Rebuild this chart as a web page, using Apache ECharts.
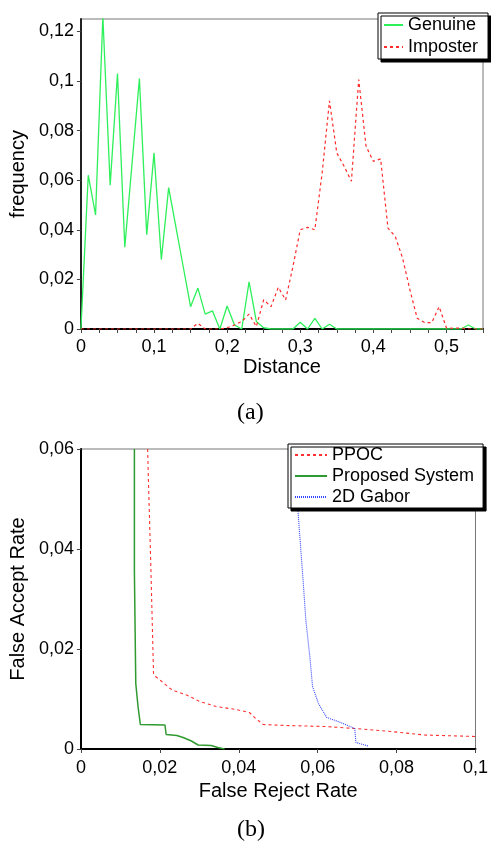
<!DOCTYPE html>
<html>
<head>
<meta charset="utf-8">
<script src="https://cdn.jsdelivr.net/npm/echarts@6/dist/echarts.min.js"></script>
<style>
html,body{margin:0;padding:0;background:#fff;}
#chart{width:491px;height:842px;}
</style>
</head>
<body>
<div id="chart"></div>
<script>
// ---- Chart (a): distance histograms ----
var distanceBins = [0,0.01,0.02,0.03,0.04,0.05,0.06,0.07,0.08,0.09,0.1,0.11,0.12,0.13,0.14,0.15,0.16,0.17,0.18,0.19,0.2,0.21,0.22,0.23,0.24,0.25,0.26,0.27,0.28,0.29,0.3,0.31,0.32,0.33,0.34,0.35,0.36,0.37,0.38,0.39,0.4,0.41,0.42,0.43,0.44,0.45,0.46,0.47,0.48,0.49,0.5,0.51,0.52,0.53,0.54,0.55];
var genuine = [0,0.062,0.046,0.126,0.058,0.103,0.033,0.067,0.101,0.038,0.071,0.028,0.057,0.041,0.025,0.009,0.0165,0.006,0.0073,0,0.0093,0.0016,0,0.019,0.003,0.0005,0,0,0,0,0.0027,0,0.0043,0,0.0019,0,0,0,0,0,0,0,0,0,0,0,0,0,0,0,0,0,0,0.0016,0,0];
var imposter = [0,0,0,0,0,0,0,0,0,0,0,0,0,0,0,0,0.0023,0,0,0,0.0005,0.0016,0.003,0.006,0.001,0.0118,0.009,0.0168,0.0117,0.0252,0.040,0.041,0.040,0.063,0.092,0.071,0.0656,0.0596,0.1006,0.0737,0.0676,0.0686,0.0407,0.0373,0.0286,0.0158,0.0043,0.0026,0.0026,0.009,0.0004,0.0003,0.0004,0,0,0];
var distLabelTicks = [0,0.1,0.2,0.3,0.4,0.5];
var distMinorTicks = [0,0.025,0.05,0.075,0.1,0.125,0.15,0.175,0.2,0.225,0.25,0.275,0.3,0.325,0.35,0.375,0.4,0.425,0.45,0.475,0.5,0.525,0.55];
var freqTicks = [0,0.02,0.04,0.06,0.08,0.1,0.12];

// ---- Chart (b): FAR vs FRR ----
var ppocFRR = [0.0169,0.0172,0.0177,0.0184,0.0189,0.0205,0.0226,0.0238,0.0268,0.0301,0.0343,0.0393,0.0427,0.0443,0.0462,0.0519,0.0619,0.0694,0.0786,0.087,0.1];
var ppocFAR = [0.06,0.0511,0.0371,0.0151,0.0145,0.0135,0.0121,0.0116,0.0108,0.0095,0.0085,0.0079,0.0073,0.0061,0.0049,0.0047,0.0045,0.0041,0.0035,0.0028,0.0025];
var propFRR = [0.01355,0.01355,0.0139,0.01447,0.01506,0.0213,0.0216,0.0243,0.0259,0.028,0.0297,0.033,0.0347,0.0364];
var propFAR = [0.06,0.0355,0.0131,0.0085,0.0049,0.0048,0.0029,0.0027,0.0023,0.0016,0.0008,0.0007,0.0003,0];
var gaborFRR = [0.0542,0.055,0.0553,0.0558,0.0563,0.057,0.0581,0.0587,0.0602,0.0623,0.0652,0.0694,0.0697,0.0728];
var gaborFAR = [0.06,0.0478,0.0445,0.0391,0.0338,0.0258,0.0178,0.0125,0.0091,0.0063,0.0055,0.0041,0.0013,0.0006];

function zip(a, b) { return a.map(function (v, i) { return [v, b[i]]; }); }
function comma(v) { return String(+v.toFixed(4)).replace('.', ','); }

var FONT = 'Liberation Sans, Arial, sans-serif';
var nameFont = { fontFamily: FONT, fontSize: 20, color: '#000' };
var hiddenSymbol = { color: 'rgba(0,0,0,0)', borderWidth: 0, opacity: 0 };

var chart = echarts.init(document.getElementById('chart'), null, { renderer: 'canvas' });
chart.setOption({
  animation: false,
  backgroundColor: '#fff',
  grid: [
    { left: 78, top: 19, width: 405, height: 310, show: true, borderColor: '#777', borderWidth: 1, backgroundColor: 'transparent' },
    { left: 80, top: 449, width: 398, height: 300, show: true, borderColor: '#777', borderWidth: 1, backgroundColor: 'transparent' }
  ],
  xAxis: [
    {
      gridIndex: 0, type: 'value', min: 0, max: 0.55,
      name: 'Distance', nameLocation: 'middle', nameGap: 28, nameTextStyle: nameFont,
      axisLine: { show: true, lineStyle: { color: '#000', width: 2 } },
      axisTick: { show: true, length: 4, customValues: distMinorTicks, lineStyle: { color: '#444' } },
      axisLabel: { customValues: distLabelTicks, formatter: comma, margin: 9, fontFamily: FONT, fontSize: 18, color: '#000' },
      splitLine: { show: false }
    },
    {
      gridIndex: 1, type: 'value', min: 0, max: 0.1, interval: 0.02,
      name: 'False Reject Rate', nameLocation: 'middle', nameGap: 32, nameTextStyle: nameFont,
      axisLine: { show: true, lineStyle: { color: '#000', width: 2 } },
      axisTick: { show: true, length: 4, lineStyle: { color: '#444' } },
      axisLabel: { formatter: comma, margin: 10, fontFamily: FONT, fontSize: 18, color: '#000' },
      splitLine: { show: false }
    }
  ],
  yAxis: [
    {
      gridIndex: 0, type: 'value', min: 0, max: 0.125,
      name: 'frequency', nameLocation: 'middle', nameGap: 48, nameTextStyle: nameFont,
      axisLine: { show: true, lineStyle: { color: '#222', width: 2 } },
      axisTick: { show: true, length: 4, customValues: freqTicks, lineStyle: { color: '#444' } },
      axisLabel: { customValues: freqTicks, formatter: comma, margin: 7, fontFamily: FONT, fontSize: 18, color: '#000' },
      splitLine: { show: false }
    },
    {
      gridIndex: 1, type: 'value', min: 0, max: 0.06, interval: 0.02,
      name: 'False Accept Rate', nameLocation: 'middle', nameGap: 48, nameTextStyle: nameFont,
      axisLine: { show: true, lineStyle: { color: '#000', width: 2 } },
      axisTick: { show: true, length: 4, lineStyle: { color: '#444' } },
      axisLabel: { formatter: comma, margin: 7, fontFamily: FONT, fontSize: 18, color: '#000' },
      splitLine: { show: false }
    }
  ],
  legend: [
    {
      data: ['Genuine', 'Imposter'], orient: 'vertical', left: 378, top: 13,
      itemWidth: 19, itemHeight: 18, itemGap: 4, padding: [3, 10, 3, 5],
      backgroundColor: '#fff', borderColor: '#000', borderWidth: 1,
      shadowColor: '#000', shadowBlur: 0, shadowOffsetX: 3, shadowOffsetY: 3,
      itemStyle: hiddenSymbol,
      textStyle: { fontFamily: FONT, fontSize: 18, color: '#000' }
    },
    {
      data: ['PPOC', 'Proposed System', '2D Gabor'], orient: 'vertical', left: 288, top: 444,
      itemWidth: 32, itemHeight: 18, itemGap: 3, padding: [2, 9, 2, 6],
      backgroundColor: '#fff', borderColor: '#000', borderWidth: 1,
      shadowColor: '#000', shadowBlur: 0, shadowOffsetX: 3, shadowOffsetY: 3,
      itemStyle: hiddenSymbol,
      textStyle: { fontFamily: FONT, fontSize: 18, color: '#000' }
    }
  ],
  graphic: [
    { type: 'text', left: 237, top: 401, style: { text: '(a)', font: '24px "Liberation Serif", "Times New Roman", serif', fill: '#000' } },
    { type: 'text', left: 237, top: 818, style: { text: '(b)', font: '24px "Liberation Serif", "Times New Roman", serif', fill: '#000' } }
  ],
  series: [
    {
      name: 'Genuine', type: 'line', xAxisIndex: 0, yAxisIndex: 0, symbol: 'none', showSymbol: false,
      data: zip(distanceBins, genuine), clip: true,
      lineStyle: { color: '#2ef05a', width: 1.3, type: 'solid' }, itemStyle: { color: '#2ef05a' }
    },
    {
      name: 'Imposter', type: 'line', xAxisIndex: 0, yAxisIndex: 0, symbol: 'none', showSymbol: false,
      data: zip(distanceBins, imposter), clip: true,
      lineStyle: { color: '#ff2a2a', width: 1.2, type: [3, 3] }, itemStyle: { color: '#ff2a2a' }
    },
    {
      name: 'PPOC', type: 'line', xAxisIndex: 1, yAxisIndex: 1, symbol: 'none', showSymbol: false,
      data: zip(ppocFRR, ppocFAR), clip: true,
      lineStyle: { color: '#ff3030', width: 1.1, type: [3, 3] }, itemStyle: { color: '#ff3030' }
    },
    {
      name: 'Proposed System', type: 'line', xAxisIndex: 1, yAxisIndex: 1, symbol: 'none', showSymbol: false,
      data: zip(propFRR, propFAR), clip: true,
      lineStyle: { color: '#2f9a2f', width: 1.5, type: 'solid' }, itemStyle: { color: '#2f9a2f' }
    },
    {
      name: '2D Gabor', type: 'line', xAxisIndex: 1, yAxisIndex: 1, symbol: 'none', showSymbol: false,
      data: zip(gaborFRR, gaborFAR), clip: true,
      lineStyle: { color: '#3344ff', width: 1.1, type: [1, 1] }, itemStyle: { color: '#3344ff' }
    }
  ]
});
</script>
</body>
</html>
